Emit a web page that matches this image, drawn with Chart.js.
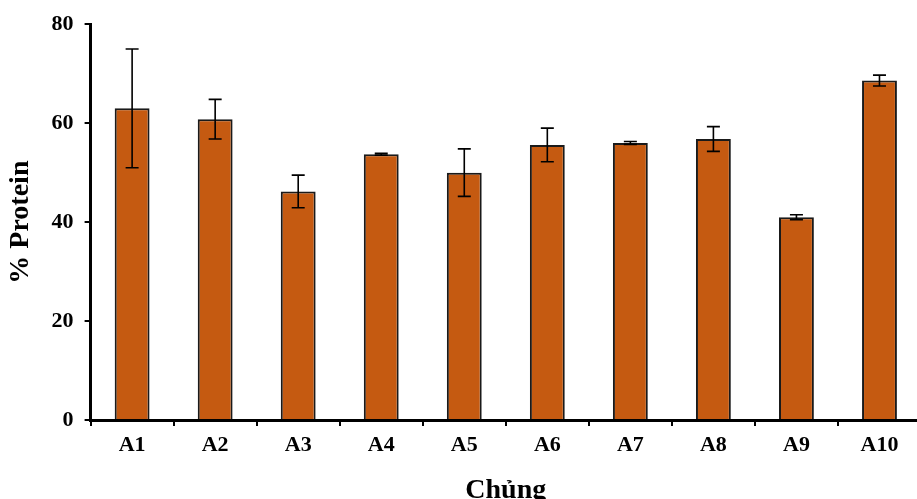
<!DOCTYPE html>
<html>
<head>
<meta charset="utf-8">
<script src="https://cdn.jsdelivr.net/npm/chart.js@4.4.0/dist/chart.umd.min.js"></script>
<style>
html,body{margin:0;padding:0;overflow:hidden;background:#fff;}
#wrap{width:921px;height:508px;position:relative;}
</style>
</head>
<body>
<div id="wrap"><canvas id="c"></canvas></div>
<script>
const categories = ["A1","A2","A3","A4","A5","A6","A7","A8","A9","A10"];
const proteinValues = [63.0, 60.8, 46.2, 53.7, 50.0, 55.6, 56.0, 56.8, 41.0, 68.6];
const proteinErrors = [12.0, 4.0, 3.3, 0.2, 4.8, 3.4, 0.3, 2.5, 0.5, 1.1];
const yTicks = [0, 20, 40, 60, 80];

const errorBars = {
  id: 'errorBars',
  afterDatasetsDraw(chart) {
    const ctx = chart.ctx;
    const meta = chart.getDatasetMeta(0);
    const ys = chart.scales.y;
    ctx.save();
    ctx.strokeStyle = '#000';
    ctx.lineWidth = 1.6;
    meta.data.forEach((bar, i) => {
      const v = proteinValues[i], e = proteinErrors[i];
      const x = bar.x;
      const yt = ys.getPixelForValue(v + e);
      const yb = ys.getPixelForValue(v - e);
      ctx.beginPath();
      ctx.moveTo(x, yt); ctx.lineTo(x, yb);
      ctx.moveTo(x - 6.5, yt); ctx.lineTo(x + 6.5, yt);
      ctx.moveTo(x - 6.5, yb); ctx.lineTo(x + 6.5, yb);
      ctx.stroke();
    });
    ctx.restore();
  }
};

const fontFam = "'Liberation Serif', 'Times New Roman', serif";
new Chart(document.getElementById('c'), {
  type: 'bar',
  data: {
    labels: categories,
    datasets: [{
      data: proteinValues,
      backgroundColor: '#C55A11',
      borderColor: '#1a1a1a',
      borderWidth: 2,
      barPercentage: 0.42,
      categoryPercentage: 1.0
    }]
  },
  options: {
    responsive: true,
    maintainAspectRatio: false,
    animation: false,
    layout: { padding: { top: 10, left: 4, right: 0, bottom: 0 } },
    plugins: { legend: { display: false }, tooltip: { enabled: false } },
    scales: {
      x: {
        offset: true,
        grid: { display: true, drawOnChartArea: false, offset: true, color: '#000', lineWidth: 2, tickLength: 6 },
        border: { display: true, color: '#000', width: 3 },
        ticks: { color: '#000', font: { family: fontFam, size: 22, weight: 'bold' }, padding: 6 },
        title: { display: true, text: 'Chủng', color: '#000', font: { family: fontFam, size: 28, weight: 'bold' }, padding: { top: 10, bottom: 0 } }
      },
      y: {
        min: 0, max: 80,
        afterBuildTicks(axis) { axis.ticks = yTicks.map(v => ({ value: v })); },
        grid: { display: true, drawOnChartArea: false, color: '#000', lineWidth: 2, tickLength: 6 },
        border: { display: true, color: '#000', width: 3 },
        ticks: { color: '#000', font: { family: fontFam, size: 22, weight: 'bold' }, padding: 11 },
        title: { display: true, text: '% Protein', color: '#000', font: { family: fontFam, size: 28, weight: 'bold' }, padding: { top: 0, bottom: 3 } }
      }
    }
  },
  plugins: [errorBars]
});
</script>
</body>
</html>
